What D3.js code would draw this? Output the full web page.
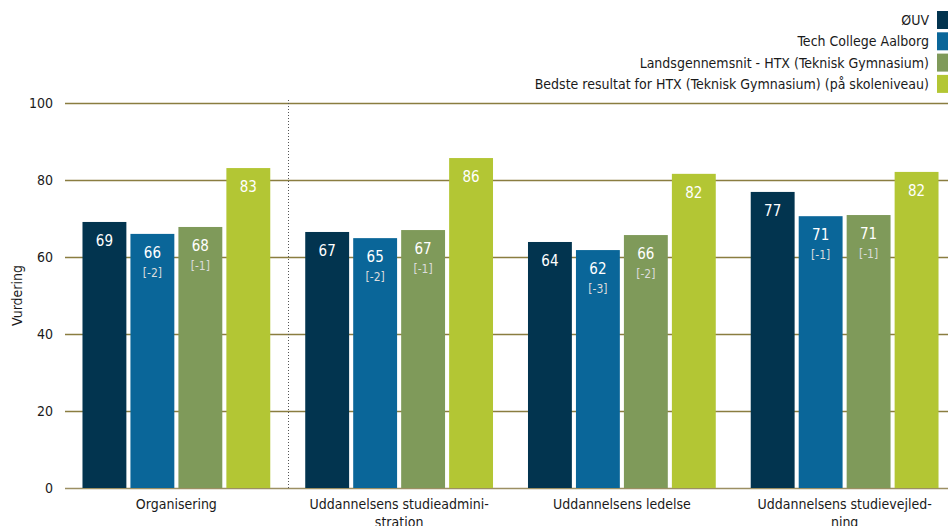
<!DOCTYPE html>
<html>
<head>
<meta charset="utf-8">
<script src="https://cdn.jsdelivr.net/npm/d3@7"></script>
<style>
  body { margin: 0; background: #fff; }
  svg { display: block; font-family: "DejaVu Sans Condensed", "DejaVu Sans", sans-serif; }
</style>
</head>
<body>
<div id="chart"></div>
<script>
const categories = [
    ["Organisering"],
    ["Uddannelsens studieadmini-", "stration"],
    ["Uddannelsens ledelse"],
    ["Uddannelsens studievejled-", "ning"]
];
const seriesNames = [
    "ØUV",
    "Tech College Aalborg",
    "Landsgennemsnit - HTX (Teknisk Gymnasium)",
    "Bedste resultat for HTX (Teknisk Gymnasium) (på skoleniveau)"
];
const colors = ["#02344f", "#0a6699", "#7f9a5a", "#b3c634"];

// one row per category, one value per series
const ouv = [69.1, 66.5, 63.9, 76.9];
const techCollege = [66.0, 64.9, 61.8, 70.6];
const landsgennemsnit = [67.8, 67.0, 65.7, 70.9];
const bedste = [83.1, 85.7, 81.6, 82.1];
// differences shown in brackets under the value
const diffTech = ["[-2]", "[-2]", "[-3]", "[-1]"];
const diffLands = ["[-1]", "[-1]", "[-2]", "[-1]"];
const yTicks = [0, 20, 40, 60, 80, 100];

const width = 948, height = 526;
const margin = { top: 103, right: -8, bottom: 38, left: 65 };

const svg = d3.select("#chart").append("svg")
    .attr("width", width)
    .attr("height", height);

const y = d3.scaleLinear()
    .domain([0, 100])
    .range([height - margin.bottom, margin.top]);

const x0 = d3.scaleBand()
    .domain(d3.range(categories.length))
    .range([margin.left, width - margin.right])
    .paddingInner(0.157)
    .paddingOuter(0.0785);

const x1 = d3.scaleBand()
    .domain(d3.range(seriesNames.length))
    .range([0, x0.bandwidth()])
    .paddingInner(0.085);

// gridlines
svg.append("g")
    .selectAll("line")
    .data(yTicks)
    .join("line")
    .attr("x1", margin.left)
    .attr("x2", width)
    .attr("y1", d => Math.round(y(d)) + 0.5)
    .attr("y2", d => Math.round(y(d)) + 0.5)
    .attr("stroke", d => d === 0 ? "#9c8f63" : "#8a7d40")
    .attr("stroke-width", 1.3);

// y tick labels
svg.append("g")
    .selectAll("text")
    .data(yTicks)
    .join("text")
    .attr("x", 53)
    .attr("y", d => y(d))
    .attr("dy", "0.35em")
    .attr("text-anchor", "end")
    .attr("font-size", 14)
    .attr("fill", "#1a1a1a")
    .text(d => d);

svg.append("text")
    .attr("transform", `translate(22,${(y(0) + y(100)) / 2}) rotate(-90)`)
    .attr("text-anchor", "middle")
    .attr("font-size", 14)
    .attr("fill", "#1a1a1a")
    .text("Vurdering");

// dotted separator after first group
const sepX = Math.round(x0(0) + x0.step() - (x0.step() - x0.bandwidth()) / 2) + 0.5;
svg.append("line")
    .attr("x1", sepX).attr("x2", sepX)
    .attr("y1", 100).attr("y2", y(0))
    .attr("stroke", "#555")
    .attr("stroke-width", 1)
    .attr("stroke-dasharray", "1,2");

const rows = categories.map((c, i) => [
    { v: ouv[i], diff: null },
    { v: techCollege[i], diff: diffTech[i] },
    { v: landsgennemsnit[i], diff: diffLands[i] },
    { v: bedste[i], diff: null }
]);

const groups = svg.append("g")
    .selectAll("g")
    .data(rows)
    .join("g")
    .attr("transform", (d, i) => `translate(${x0(i)},0)`);

const bars = groups.selectAll("g")
    .data(d => d)
    .join("g");

bars.append("rect")
    .attr("x", (d, j) => x1(j))
    .attr("width", x1.bandwidth())
    .attr("y", d => y(d.v))
    .attr("height", d => y(0) - y(d.v))
    .attr("fill", (d, j) => colors[j]);

bars.append("text")
    .attr("x", (d, j) => x1(j) + x1.bandwidth() / 2)
    .attr("y", d => y(d.v) + 24)
    .attr("text-anchor", "middle")
    .attr("font-size", 15)
    .attr("fill", "#fff")
    .text(d => Math.round(d.v));

bars.filter(d => d.diff)
    .append("text")
    .attr("x", (d, j) => x1(j + 1) + x1.bandwidth() / 2)
    .attr("y", d => y(d.v) + 43)
    .attr("text-anchor", "middle")
    .attr("font-size", 12)
    .attr("fill", "#dcdcdc")
    .text(d => d.diff);

// category labels
const catLabels = svg.append("g")
    .selectAll("text")
    .data(categories)
    .join("text")
    .attr("x", (d, i) => x0(i) + x0.bandwidth() / 2)
    .attr("y", y(0) + 21)
    .attr("text-anchor", "middle")
    .attr("font-size", 14)
    .attr("fill", "#1a1a1a");

catLabels.selectAll("tspan")
    .data(d => d)
    .join("tspan")
    .attr("x", function () { return d3.select(this.parentNode).attr("x"); })
    .attr("dy", (d, k) => k === 0 ? 0 : 18)
    .text(d => d);

// legend
const legend = svg.append("g")
    .selectAll("g")
    .data(seriesNames)
    .join("g")
    .attr("transform", (d, i) => `translate(0,${20 + i * 21.3})`);

legend.append("rect")
    .attr("x", 937)
    .attr("y", -9)
    .attr("width", 12)
    .attr("height", 18)
    .attr("fill", (d, i) => colors[i]);

legend.append("text")
    .attr("x", 929)
    .attr("dy", "0.35em")
    .attr("text-anchor", "end")
    .attr("font-size", 14)
    .attr("fill", "#1a1a1a")
    .text(d => d);
</script>
</body>
</html>
